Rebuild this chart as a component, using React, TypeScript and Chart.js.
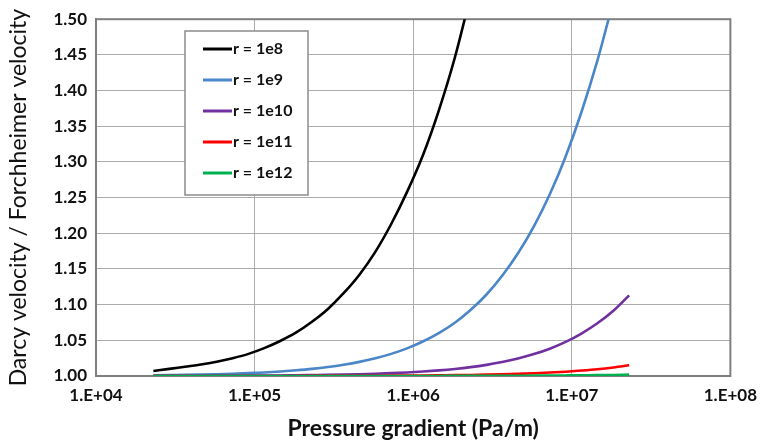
import React, { useEffect, useRef } from 'react';
import { Chart, registerables } from 'chart.js';

Chart.register(...registerables);

// Pressure gradient (Pa/m) sample positions
const pressureGradient = [
  23000, 29000, 36400, 45800, 57700, 72700, 91500, 115000, 145000, 183000,
  230000, 290000, 364000, 458000, 577000, 727000, 915000, 1150000, 1450000, 1830000,
  2300000, 2900000, 3640000, 4580000, 5770000, 7270000, 9150000, 11500000, 14500000, 18300000,
  23000000,
];

const seriesNames = ['r = 1e8', 'r = 1e9', 'r = 1e10', 'r = 1e11', 'r = 1e12'];
const seriesColors = ['#000000', '#4A86C8', '#7030A0', '#FF0000', '#00B050'];

const r1e8 = [
  1.007, 1.010, 1.013, 1.016, 1.020, 1.025, 1.031, 1.039, 1.049, 1.061,
  1.076, 1.094, 1.116, 1.142, 1.174, 1.213, 1.258, 1.309, 1.372, 1.446,
  1.533,
];
const r1e9 = [
  1.001, 1.0013, 1.0016, 1.002, 1.0025, 1.0032, 1.004, 1.005, 1.0063, 1.008,
  1.010, 1.0126, 1.0158, 1.0198, 1.0248, 1.031, 1.0387, 1.0483, 1.0601, 1.0747,
  1.0925, 1.1142, 1.1404, 1.172, 1.2098, 1.2546, 1.3076, 1.3696, 1.4419, 1.526,
];
const r1e10 = [
  1.0001, 1.0002, 1.0002, 1.0003, 1.0003, 1.0004, 1.0005, 1.0006, 1.0008, 1.001,
  1.0013, 1.0016, 1.002, 1.0025, 1.0032, 1.004, 1.005, 1.0063, 1.0079, 1.0099,
  1.0124, 1.0156, 1.0195, 1.0245, 1.0307, 1.0383, 1.0478, 1.0595, 1.0739, 1.0915,
  1.113,
];
const r1e11 = [
  1.0, 1.0, 1.0, 1.0, 1.0, 1.0, 1.0001, 1.0001, 1.0001, 1.0001,
  1.0002, 1.0002, 1.0002, 1.0003, 1.0004, 1.0005, 1.0006, 1.0008, 1.001, 1.0012,
  1.0015, 1.0019, 1.0024, 1.003, 1.0038, 1.0048, 1.006, 1.0076, 1.0095, 1.012,
  1.015,
];
const r1e12 = [
  1.0, 1.0, 1.0, 1.0, 1.0, 1.0, 1.0, 1.0, 1.0, 1.0,
  1.0, 1.0, 1.0, 1.0, 1.0, 1.0001, 1.0001, 1.0001, 1.0001, 1.0002,
  1.0002, 1.0002, 1.0003, 1.0004, 1.0005, 1.0006, 1.0008, 1.001, 1.0012, 1.0015,
  1.0019,
];
const seriesValues = [r1e8, r1e9, r1e10, r1e11, r1e12];

const xTickValues = [1e4, 1e5, 1e6, 1e7, 1e8];
const xTickLabels = ['1.E+04', '1.E+05', '1.E+06', '1.E+07', '1.E+08'];
const yTickValues = [1.0, 1.05, 1.1, 1.15, 1.2, 1.25, 1.3, 1.35, 1.4, 1.45, 1.5];

const FONT = 'Lato, "Open Sans", "DejaVu Sans", sans-serif';

const legendPlugin = {
  id: 'insideLegend',
  afterDraw(chart: any) {
    const ctx = chart.ctx;
    ctx.save();
    const bx = 185, by = 31, bw = 123, bh = 164;
    ctx.fillStyle = '#ffffff';
    ctx.fillRect(bx, by, bw, bh);
    ctx.strokeStyle = '#8c8c8c';
    ctx.lineWidth = 1.5;
    ctx.strokeRect(bx, by, bw, bh);
    seriesNames.forEach((name, i) => {
      const y = 49 + i * 31;
      ctx.strokeStyle = seriesColors[i];
      ctx.lineWidth = 3;
      ctx.beginPath();
      ctx.moveTo(203, y);
      ctx.lineTo(232, y);
      ctx.stroke();
      ctx.fillStyle = '#111111';
      ctx.font = `bold 16px ${FONT}`;
      ctx.textBaseline = 'middle';
      ctx.textAlign = 'left';
      ctx.fillText(name, 233, y);
    });
    ctx.restore();
  },
};

const borderPlugin = {
  id: 'plotBorder',
  beforeDatasetsDraw(chart: any) {
    const { ctx, chartArea } = chart;
    ctx.save();
    ctx.strokeStyle = '#7f7f7f';
    ctx.lineWidth = 2;
    ctx.strokeRect(chartArea.left, chartArea.top, chartArea.right - chartArea.left, chartArea.bottom - chartArea.top);
    ctx.restore();
  },
};

export default function App() {
  const canvasRef = useRef<HTMLCanvasElement | null>(null);

  useEffect(() => {
    document.body.style.margin = '0';
    const canvas = canvasRef.current;
    if (!canvas) return;
    const datasets = seriesValues.map((vals, i) => ({
      label: seriesNames[i],
      data: vals.map((v, j) => ({ x: pressureGradient[j], y: v })),
      borderColor: seriesColors[i],
      backgroundColor: seriesColors[i],
      borderWidth: 2.6,
      pointRadius: 0,
      cubicInterpolationMode: 'monotone' as const,
      fill: false,
      order: 4 - i,
    }));
    const chart = new Chart(canvas, {
      type: 'line',
      data: { datasets },
      options: {
        animation: false,
        responsive: false,
        maintainAspectRatio: false,
        layout: { padding: { top: 16, right: 30, left: 0, bottom: 0 } },
        plugins: {
          legend: { display: false },
          tooltip: { enabled: false },
        },
        scales: {
          x: {
            type: 'logarithmic',
            min: 1e4,
            max: 1e8,
            afterBuildTicks: (scale: any) => {
              scale.ticks = xTickValues.map((v) => ({ value: v }));
            },
            afterFit: (scale: any) => {
              scale.height = 69;
            },
            ticks: {
              autoSkip: false,
              maxRotation: 0,
              padding: 9,
              color: '#111111',
              font: { family: FONT, size: 17, weight: 'bold' },
              callback: (v: any) => {
                const idx = xTickValues.findIndex((t) => Math.abs(t - Number(v)) / t < 1e-6);
                return idx >= 0 ? xTickLabels[idx] : '';
              },
            },
            grid: { color: '#ababab', lineWidth: 1, drawTicks: false },
            border: { display: true, color: '#7f7f7f', width: 2 },
            title: {
              display: true,
              text: 'Pressure gradient (Pa/m)',
              color: '#111111',
              font: { family: FONT, size: 23, weight: 'bold' },
              padding: { top: 0, bottom: 3 },
            },
          },
          y: {
            type: 'linear',
            min: 1.0,
            max: 1.5,
            afterBuildTicks: (scale: any) => {
              scale.ticks = yTickValues.map((v) => ({ value: v }));
            },
            afterFit: (scale: any) => {
              scale.width = 96;
            },
            ticks: {
              padding: 9,
              color: '#111111',
              font: { family: FONT, size: 17, weight: 'bold' },
              callback: (v: any) => Number(v).toFixed(2),
            },
            grid: { color: '#ababab', lineWidth: 1, drawTicks: false },
            border: { display: true, color: '#7f7f7f', width: 2 },
            title: {
              display: true,
              text: 'Darcy velocity / Forchheimer velocity',
              color: '#111111',
              font: { family: FONT, size: 23, weight: 'normal' },
              padding: { top: 5, bottom: 0 },
            },
          },
        },
      },
      plugins: [borderPlugin, legendPlugin],
    });
    return () => chart.destroy();
  }, []);

  return (
    <div style={{ position: 'relative', width: 766, height: 445 }}>
      <canvas ref={canvasRef} width={766} height={445} style={{ display: 'block' }} />
    </div>
  );
}
